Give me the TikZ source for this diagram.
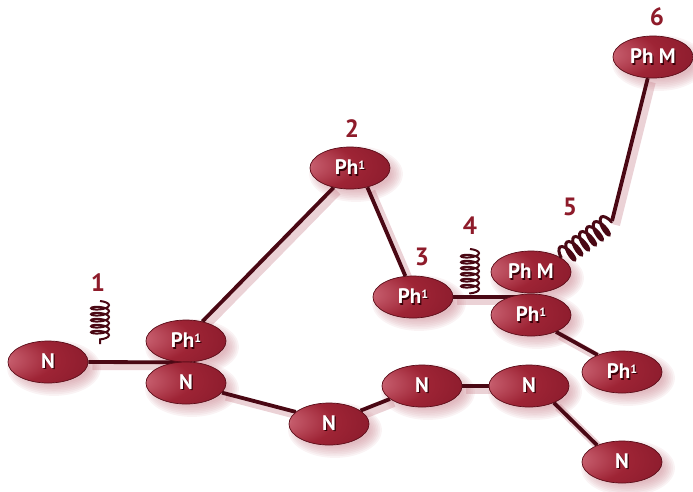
\documentclass[tikz,border=0pt]{standalone}
\usepackage{fontspec}
\setmainfont{PT Sans}
\usetikzlibrary{shapes.geometric,decorations.pathmorphing,backgrounds,calc}
\definecolor{linec}{HTML}{4A0814}
\definecolor{labc}{HTML}{8E1B2A}
\definecolor{elborder}{HTML}{5A0C18}
\definecolor{hlc}{HTML}{F0C8CE}
\definecolor{hlc2}{HTML}{C45A6A}
\definecolor{midc}{HTML}{9E2435}
\definecolor{basec}{HTML}{86192A}
\definecolor{shadc}{HTML}{C77F8A}
\definecolor{tshc}{HTML}{3A0008}
\pgfdeclareradialshading{elball}{\pgfpoint{-36bp}{4bp}}{color(0bp)=(hlc); color(9bp)=(hlc2); color(28bp)=(midc); color(52bp)=(basec); color(90bp)=(basec)}
\newcommand\tsh[1]{\makebox[0pt][l]{\hspace{1.2pt}\raisebox{-1.2pt}{\color{tshc}#1}}#1}
\newcommand\supone{\raisebox{0.55ex}{\fontsize{12}{12}\selectfont 1}}
\begin{document}
\begin{tikzpicture}[x=1pt,y=-1pt,
  el/.style={ellipse, minimum width=80pt, minimum height=42pt, inner sep=0pt,
    draw=elborder, line width=0.7pt, shade, shading=elball, text=white,
    font=\bfseries\fontsize{21}{21}\selectfont},
  lab/.style={text=labc, font=\bfseries\fontsize{25}{25}\selectfont, inner sep=0pt},
  conn/.style={draw=linec, line width=3.8pt,
    preaction={draw=shadc, opacity=0.35, line width=8pt, transform canvas={shift={(4pt,-4pt)}}}},
  spring/.style={draw=linec, line width=2pt, decorate,
    decoration={coil, amplitude=#1, segment length=6pt, aspect=0.3}},
  spring/.default=9pt]
\useasboundingbox (0,0) rectangle (693,491);
% nodes
\node[el] (n1) at (48,362) {\tsh{N}};
\node[el] (pha) at (186,341) {\tsh{Ph\supone}};
\node[el] (nb) at (186,383) {\tsh{N}};
\node[el] (n3) at (329,424) {\tsh{N}};
\node[el] (n4) at (422,386) {\tsh{N}};
\node[el] (n5) at (529,386) {\tsh{N}};
\node[el] (n6) at (622,462) {\tsh{N}};
\node[el] (p2) at (350,168) {\tsh{Ph\supone}};
\node[el] (p3) at (413,297) {\tsh{Ph\supone}};
\node[el] (pm) at (531,272) {\tsh{Ph M}};
\node[el] (pb) at (531,315) {\tsh{Ph\supone}};
\node[el] (pr) at (622,372) {\tsh{Ph\supone}};
\node[el] (pm6) at (653,57) {\tsh{Ph M}};
% labels
\node[lab] (l1) at (98,283) {1};
\node[lab] (l2) at (352,129) {2};
\node[lab] (l3) at (422,257) {3};
\node[lab] (l4) at (470,226) {4};
\node[lab] (l5) at (570,207) {5};
\node[lab] (l6) at (657,17) {6};
% free ends
\coordinate (s1a) at (100,301);
\coordinate (s1b) at (100,344);
\coordinate (s4a) at (470,249);
\coordinate (s4b) at (470,294);
\coordinate (s5) at (612,221);
\begin{pgfonlayer}{background}
\foreach \n in {n1,pha,nb,n3,n4,n5,n6,p2,p3,pm,pb,pr,pm6}{
  \foreach \k in {0,...,7}{
    \fill[shadc, opacity=0.09] ($(\n)+(6,6)$) ellipse [x radius={35pt+\k*1.7pt}, y radius={16pt+\k*1.7pt}];
  }
}
\path[conn] (n1.east) -- (pha.south);
\path[conn] (pha.50) -- (p2.230);
\path[conn] (p2.312) -- (p3.110);
\path[conn] (p3.east) -- (p3.east -| pm.south);
\path[conn] (nb.-15) -- (n3.160);
\path[conn] (n3.23) -- (n4.202);
\path[conn] (n4.east) -- (n5.west);
\path[conn] (n5.-34) -- (n6.146);
\path[conn] (pb.-34) -- (pr.145);
\path[conn] (pm6.256) -- (s5);
\end{pgfonlayer}
\path[spring=9pt] (s1a) -- (s1b);
\path[spring=9pt] (s4a) -- (s4b);
\path[spring=9.5pt, line width=3pt, decoration={segment length=8.5pt, aspect=0.35}] (pm.25) -- (s5);
\end{tikzpicture}
\end{document}
